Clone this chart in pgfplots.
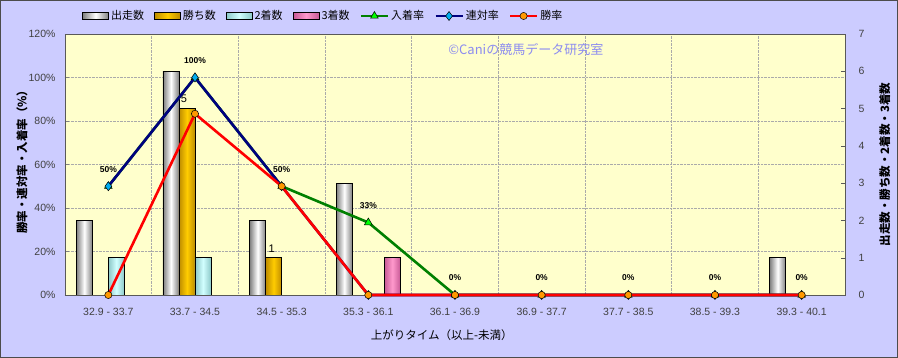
\documentclass[border=0pt]{standalone}
\usepackage{pgfplots}
\pgfplotsset{compat=1.18}
\usepackage{fontspec}
\setmainfont{Liberation Sans}
\newfontfamily\jp{Noto Sans CJK JP}
\definecolor{bgout}{RGB}{204,204,255}
\definecolor{bgplot}{RGB}{255,255,204}
\definecolor{gold}{RGB}{255,204,0}
\definecolor{golddk}{RGB}{190,140,0}
\definecolor{lcyan}{RGB}{210,255,255}
\definecolor{lcyandk}{RGB}{140,200,200}
\definecolor{lpink}{RGB}{255,153,204}
\definecolor{lpinkdk}{RGB}{200,90,150}
\definecolor{lgreen}{RGB}{0,128,0}
\definecolor{lnavy}{RGB}{0,0,128}
\definecolor{mkorange}{RGB}{255,153,0}
\definecolor{wm}{RGB}{140,140,240}
\definecolor{gridc}{RGB}{170,170,170}
\pgfplotsset{
  mylinelegend/.style={legend image code/.code={\draw[mark repeat=2,mark phase=2,##1] plot coordinates {(0pt,0pt) (13.5pt,0pt) (27pt,0pt)};}},
  barA/.style={draw=black, line width=0.8pt, left color=black!50, right color=black!50, middle color=white, bar shift=-24pt, bar width=16pt},
  barB/.style={draw=black, line width=0.8pt, left color=golddk, right color=golddk, middle color=gold, bar shift=-8pt, bar width=16pt},
  barC/.style={draw=black, line width=0.8pt, left color=lcyandk, right color=lcyandk, middle color=lcyan, bar shift=8pt, bar width=16pt},
  barD/.style={draw=black, line width=0.8pt, left color=lpinkdk, right color=lpinkdk, middle color=lpink, bar shift=24pt, bar width=16pt},
}
\begin{document}
\begin{tikzpicture}
\path[use as bounding box] (-65pt,-63pt) rectangle (833pt,295pt);
\fill[bgout] (-65pt,-63pt) rectangle (833pt,295pt);
\draw[black!70, line width=1.2pt] (-64.4pt,-62.4pt) rectangle (832.4pt,294.4pt);
% axis 1: frame, grid, left axis
\begin{axis}[
  at={(0pt,0pt)}, anchor=south west, scale only axis, width=780pt, height=261pt,
  xmin=-0.5, xmax=8.5, ymin=0, ymax=120,
  axis background/.style={fill=bgplot},
  axis line style={black!65, line width=0.8pt},
  xtick={0,...,8},
  xticklabels={32.9 - 33.7,33.7 - 34.5,34.5 - 35.3,35.3 - 36.1,36.1 - 36.9,36.9 - 37.7,37.7 - 38.5,38.5 - 39.3,39.3 - 40.1},
  minor xtick={0.5,1.5,...,7.5},
  xminorgrids, ymajorgrids,
  major grid style={densely dotted, gridc, line width=0.7pt},
  minor grid style={densely dotted, gridc, line width=0.7pt},
  major x tick style={draw=none}, minor x tick style={draw=none},
  xtick pos=bottom, ytick pos=left,
  ytick={0,20,...,120},
  major tick length=4pt,
  /pgf/number format/assume math mode=true,
  yticklabel={\pgfmathprintnumber{\tick}\%},
  ticklabel style={font=\fontsize{10.5}{12}\selectfont, text=black!75},
  xticklabel style={yshift=-10pt},
  yticklabel style={xshift=-6pt},
  ylabel={\jp 勝率・連対率・入着率（\%）},
  ylabel style={at={(axis description cs:-0.0551,0.52)}, anchor=center, font=\bfseries\fontsize{11.5}{13}\selectfont},
  xlabel={\jp 上がりタイム（以上-未満）},
  xlabel style={at={(axis description cs:0.483,-0.153)}, anchor=center, font=\fontsize{11.5}{13}\selectfont},
]
\end{axis}
% axis 2: bars, right axis
\begin{axis}[
  at={(0pt,0pt)}, anchor=south west, scale only axis, width=780pt, height=261pt,
  xmin=-0.5, xmax=8.5, ymin=0, ymax=7,
  hide x axis, axis y line*=right, axis line style={draw=none},
  ytick={0,...,7}, major tick length=4pt,
  ytick style={black!65},
  /pgf/number format/assume math mode=true,
  ticklabel style={font=\fontsize{10.5}{12}\selectfont, text=black!75},
  yticklabel style={xshift=10pt},
  ylabel={\jp 出走数・勝ち数・2着数・3着数},
  ylabel style={at={(axis description cs:1.051,0.5)}, anchor=center, font=\bfseries\fontsize{11.5}{13}\selectfont},
  ybar,
]
% 出走数
\addplot[barA] coordinates {(0,2)};
\addplot[barA] coordinates {(1,6)};
\addplot[barA] coordinates {(2,2)};
\addplot[barA] coordinates {(3,3)};
\addplot[barA] coordinates {(8,1)};
% 勝ち数
\addplot[barB, nodes near coords, every node near coord/.append style={text=black, font=\fontsize{11}{12}\selectfont, xshift=-3pt, yshift=2pt}] coordinates {(1,5)};
\addplot[barB, nodes near coords, every node near coord/.append style={text=black, font=\fontsize{11}{12}\selectfont, xshift=-2pt, yshift=1pt}] coordinates {(2,1)};
% 2着数
\addplot[barC] coordinates {(0,1)};
\addplot[barC] coordinates {(1,1)};
% 3着数
\addplot[barD] coordinates {(3,1)};
\end{axis}
% axis 3: rate lines, legend
\begin{axis}[
  at={(0pt,0pt)}, anchor=south west, scale only axis, width=780pt, height=261pt,
  xmin=-0.5, xmax=8.5, ymin=0, ymax=120,
  hide axis, clip=false,
  legend columns=-1,
  legend style={at={(axis description cs:0.0218,1.069)}, anchor=west, draw=none, fill=none,
    inner sep=0pt, font=\jp\fontsize{11}{13}\selectfont,
    nodes={inner sep=1pt},
    /tikz/every odd column/.append style={column sep=1pt},
    /tikz/every even column/.append style={column sep=9pt}},
]
\addlegendimage{legend image code/.code={\draw[draw=black, line width=0.8pt, left color=black!50, right color=black!50, middle color=white] (0pt,-3.2pt) rectangle (26pt,3.2pt);}}
\addlegendentry{出走数}
\addlegendimage{legend image code/.code={\draw[draw=black, line width=0.8pt, left color=golddk, right color=golddk, middle color=gold] (0pt,-3.2pt) rectangle (26pt,3.2pt);}}
\addlegendentry{勝ち数}
\addlegendimage{legend image code/.code={\draw[draw=black, line width=0.8pt, left color=lcyandk, right color=lcyandk, middle color=lcyan] (0pt,-3.2pt) rectangle (26pt,3.2pt);}}
\addlegendentry{2着数}
\addlegendimage{legend image code/.code={\draw[draw=black, line width=0.8pt, left color=lpinkdk, right color=lpinkdk, middle color=lpink] (0pt,-3.2pt) rectangle (26pt,3.2pt);}}
\addlegendentry{3着数}
\addplot[mylinelegend, lgreen, line width=2.6pt, mark=triangle*, mark size=4.5pt,
  mark options={fill=green, draw=black, line width=0.5pt},
  nodes near coords, point meta=explicit symbolic,
  every node near coord/.append style={text=black, anchor=center, yshift=17pt, font=\bfseries\fontsize{8.5}{9}\selectfont}]
  coordinates {(0,50) [50\%] (1,100) [100\%] (2,50) [50\%] (3,33.33) [33\%] (4,0) [0\%] (5,0) [0\%] (6,0) [0\%] (7,0) [0\%] (8,0) [0\%]};
\addlegendentry{入着率}
\addplot[mylinelegend, lnavy, line width=2.6pt, mark=diamond*, mark size=4.5pt,
  mark options={fill=cyan, draw=black, line width=0.5pt}]
  coordinates {(0,50) (1,100) (2,50) (3,0) (4,0) (5,0) (6,0) (7,0) (8,0)};
\addlegendentry{連対率}
\addplot[mylinelegend, red, line width=2.6pt, mark=*, mark size=3.6pt,
  mark options={fill=mkorange, draw=black, line width=0.5pt}]
  coordinates {(0,0) (1,83.33) (2,50) (3,0) (4,0) (5,0) (6,0) (7,0) (8,0)};
\addlegendentry{勝率}
\node[anchor=west, text=wm, font=\jp\fontsize{13}{15}\selectfont] at (rel axis cs:0.487,0.939) {©Caniの競馬データ研究室};
\end{axis}
\end{tikzpicture}
\end{document}
